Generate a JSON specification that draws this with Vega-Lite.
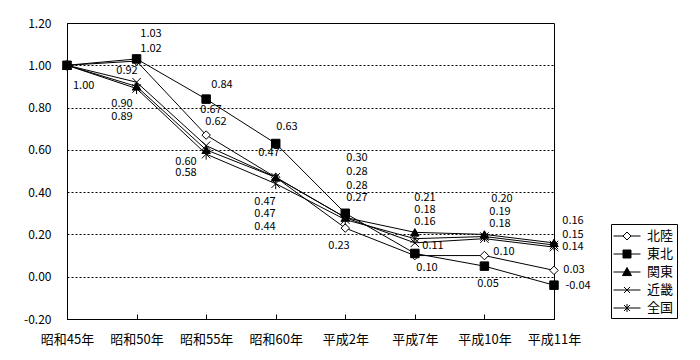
{
  "$schema": "https://vega.github.io/schema/vega-lite/v6.json",
  "width": 487,
  "height": 296,
  "autosize": {"type": "none"},
  "padding": {"left": 67, "top": 23, "right": 146, "bottom": 41},
  "background": "white",
  "config": {
    "view": {"stroke": "black", "strokeWidth": 1},
    "font": "Noto Sans CJK JP",
    "text": {"font": "Noto Sans CJK JP"},
    "axisY": {
      "title": null,
      "values": [-0.2, 0, 0.2, 0.4, 0.6, 0.8, 1.0, 1.2],
      "labelExpr": "datum.value < 0 ? '-' + format(-datum.value, '.2f') : format(datum.value, '.2f')",
      "ticks": false,
      "labelPadding": 16,
      "labelFontSize": 12,
      "labelColor": "black",
      "domainColor": "black",
      "grid": true,
      "gridColor": "black",
      "gridDash": [2, 2],
      "gridOpacity": 1,
      "gridWidth": 1
    },
    "legend": {
      "title": null,
      "orient": "none",
      "legendX": 544,
      "legendY": 201,
      "strokeColor": "black",
      "fillColor": "white",
      "padding": 3,
      "symbolSize": 289,
      "symbolOffset": 4,
      "labelOffset": 11,
      "rowPadding": 2,
      "labelFontSize": 13,
      "labelColor": "black",
      "symbolStrokeColor": "black",
      "symbolStrokeWidth": 1
    }
  },
  "datasets": {
    "series": [
      {"cat": "昭和45年", "series": "北陸", "value": 1.00},
      {"cat": "昭和50年", "series": "北陸", "value": 1.02},
      {"cat": "昭和55年", "series": "北陸", "value": 0.67},
      {"cat": "昭和60年", "series": "北陸", "value": 0.47},
      {"cat": "平成2年", "series": "北陸", "value": 0.23},
      {"cat": "平成7年", "series": "北陸", "value": 0.10},
      {"cat": "平成10年", "series": "北陸", "value": 0.10},
      {"cat": "平成11年", "series": "北陸", "value": 0.03},
      {"cat": "昭和45年", "series": "東北", "value": 1.00},
      {"cat": "昭和50年", "series": "東北", "value": 1.03},
      {"cat": "昭和55年", "series": "東北", "value": 0.84},
      {"cat": "昭和60年", "series": "東北", "value": 0.63},
      {"cat": "平成2年", "series": "東北", "value": 0.30},
      {"cat": "平成7年", "series": "東北", "value": 0.11},
      {"cat": "平成10年", "series": "東北", "value": 0.05},
      {"cat": "平成11年", "series": "東北", "value": -0.04},
      {"cat": "昭和45年", "series": "関東", "value": 1.00},
      {"cat": "昭和50年", "series": "関東", "value": 0.90},
      {"cat": "昭和55年", "series": "関東", "value": 0.60},
      {"cat": "昭和60年", "series": "関東", "value": 0.47},
      {"cat": "平成2年", "series": "関東", "value": 0.28},
      {"cat": "平成7年", "series": "関東", "value": 0.21},
      {"cat": "平成10年", "series": "関東", "value": 0.20},
      {"cat": "平成11年", "series": "関東", "value": 0.16},
      {"cat": "昭和45年", "series": "近畿", "value": 1.00},
      {"cat": "昭和50年", "series": "近畿", "value": 0.92},
      {"cat": "昭和55年", "series": "近畿", "value": 0.62},
      {"cat": "昭和60年", "series": "近畿", "value": 0.47},
      {"cat": "平成2年", "series": "近畿", "value": 0.28},
      {"cat": "平成7年", "series": "近畿", "value": 0.16},
      {"cat": "平成10年", "series": "近畿", "value": 0.18},
      {"cat": "平成11年", "series": "近畿", "value": 0.14},
      {"cat": "昭和45年", "series": "全国", "value": 1.00},
      {"cat": "昭和50年", "series": "全国", "value": 0.89},
      {"cat": "昭和55年", "series": "全国", "value": 0.58},
      {"cat": "昭和60年", "series": "全国", "value": 0.44},
      {"cat": "平成2年", "series": "全国", "value": 0.27},
      {"cat": "平成7年", "series": "全国", "value": 0.18},
      {"cat": "平成10年", "series": "全国", "value": 0.19},
      {"cat": "平成11年", "series": "全国", "value": 0.15}
    ],
    "labels": [
      {"t": "1.00", "lx": 0.24, "ly": 0.902},
      {"t": "1.03", "lx": 1.207, "ly": 1.148},
      {"t": "1.02", "lx": 1.207, "ly": 1.077},
      {"t": "0.92", "lx": 0.862, "ly": 0.973},
      {"t": "0.90", "lx": 0.79, "ly": 0.817},
      {"t": "0.89", "lx": 0.79, "ly": 0.755},
      {"t": "0.84", "lx": 2.228, "ly": 0.907},
      {"t": "0.67", "lx": 2.07, "ly": 0.788},
      {"t": "0.62", "lx": 2.142, "ly": 0.732},
      {"t": "0.60", "lx": 1.71, "ly": 0.543},
      {"t": "0.58", "lx": 1.71, "ly": 0.491},
      {"t": "0.63", "lx": 3.162, "ly": 0.708},
      {"t": "0.47", "lx": 2.904, "ly": 0.585},
      {"t": "0.47", "lx": 2.846, "ly": 0.353},
      {"t": "0.47", "lx": 2.846, "ly": 0.297},
      {"t": "0.44", "lx": 2.846, "ly": 0.235},
      {"t": "0.30", "lx": 4.168, "ly": 0.561},
      {"t": "0.28", "lx": 4.168, "ly": 0.495},
      {"t": "0.28", "lx": 4.168, "ly": 0.429},
      {"t": "0.27", "lx": 4.168, "ly": 0.372},
      {"t": "0.23", "lx": 3.91, "ly": 0.145},
      {"t": "0.21", "lx": 5.146, "ly": 0.372},
      {"t": "0.18", "lx": 5.146, "ly": 0.316},
      {"t": "0.16", "lx": 5.146, "ly": 0.259},
      {"t": "0.11", "lx": 5.261, "ly": 0.145},
      {"t": "0.10", "lx": 5.175, "ly": 0.041},
      {"t": "0.20", "lx": 6.253, "ly": 0.368},
      {"t": "0.19", "lx": 6.224, "ly": 0.306},
      {"t": "0.18", "lx": 6.224, "ly": 0.249},
      {"t": "0.10", "lx": 6.281, "ly": 0.117},
      {"t": "0.05", "lx": 6.052, "ly": -0.034},
      {"t": "0.16", "lx": 7.273, "ly": 0.264},
      {"t": "0.15", "lx": 7.273, "ly": 0.197},
      {"t": "0.14", "lx": 7.273, "ly": 0.141},
      {"t": "0.03", "lx": 7.288, "ly": 0.032},
      {"t": "-0.04", "lx": 7.345, "ly": -0.044}
    ]
  },
  "layer": [
    {
      "data": {"name": "series"},
      "encoding": {
        "x": {
          "field": "cat",
          "type": "ordinal",
          "sort": ["昭和45年", "昭和50年", "昭和55年", "昭和60年", "平成2年", "平成7年", "平成10年", "平成11年"],
          "scale": {"type": "point", "padding": 0},
          "axis": {
            "title": null,
            "labelAngle": 0,
            "tickSize": -5,
            "tickColor": "black",
            "domainColor": "black",
            "labelPadding": 19,
            "labelFontSize": 13,
            "labelColor": "black",
            "grid": false
          }
        },
        "y": {
          "field": "value",
          "type": "quantitative",
          "scale": {"domain": [-0.2, 1.2], "nice": false, "zero": false}
        }
      },
      "layer": [
        {
          "mark": {"type": "line", "color": "black", "strokeWidth": 1},
          "encoding": {"detail": {"field": "series"}}
        },
        {
          "mark": {"type": "point", "filled": true, "stroke": "black", "strokeWidth": 1, "size": 72, "opacity": 1},
          "encoding": {
            "shape": {
              "field": "series",
              "type": "nominal",
              "scale": {
                "domain": ["北陸", "東北", "関東", "近畿", "全国"],
                "range": ["diamond", "square", "triangle-up", "M-1,-1L1,1M-1,1L1,-1", "M-1,-1L1,1M-1,1L1,-1M0,-1.3V1.3"]
              },
              "legend": null
            },
            "fill": {
              "field": "series",
              "type": "nominal",
              "scale": {
                "domain": ["北陸", "東北", "関東", "近畿", "全国"],
                "range": ["white", "black", "black", "black", "black"]
              },
              "legend": null
            }
          }
        }
      ]
    },
    {
      "data": {"name": "labels"},
      "mark": {"type": "text", "align": "center", "baseline": "middle", "fontSize": 11, "color": "black"},
      "encoding": {
        "x": {"field": "lx", "type": "quantitative", "scale": {"domain": [0, 7], "nice": false, "zero": false}, "axis": null},
        "y": {"field": "ly", "type": "quantitative", "scale": {"domain": [-0.2, 1.2], "nice": false, "zero": false}},
        "text": {"field": "t"}
      }
    },
    {
      "data": {"name": "series"},
      "transform": [{"filter": "false"}],
      "mark": {"type": "point", "filled": true, "strokeWidth": 1, "opacity": 1},
      "encoding": {
        "shape": {
          "field": "series",
          "type": "nominal",
          "scale": {
            "domain": ["北陸", "東北", "関東", "近畿", "全国"],
            "range": [
              "M-1.59,0H-0.47M0.47,0H1.59M0,-0.47L0.47,0L0,0.47L-0.47,0Z",
              "M-1.59,0H1.59M-0.47,-0.47H0.47V0.47H-0.47Z",
              "M-1.59,0H1.59M0,-0.53L0.53,0.42H-0.53Z",
              "M-1.59,0H1.59M-0.35,-0.35L0.35,0.35M-0.35,0.35L0.35,-0.35",
              "M-1.59,0H1.59M-0.35,-0.35L0.35,0.35M-0.35,0.35L0.35,-0.35M0,-0.47V0.47"
            ]
          }
        },
        "fill": {
          "field": "series",
          "type": "nominal",
          "scale": {
            "domain": ["北陸", "東北", "関東", "近畿", "全国"],
            "range": ["white", "black", "black", "black", "black"]
          }
        },
        "stroke": {
          "field": "series",
          "type": "nominal",
          "scale": {
            "domain": ["北陸", "東北", "関東", "近畿", "全国"],
            "range": ["black", "black", "black", "black", "black"]
          }
        }
      }
    }
  ],
  "resolve": {"scale": {"x": "independent", "shape": "independent", "fill": "independent", "stroke": "independent"}}
}
